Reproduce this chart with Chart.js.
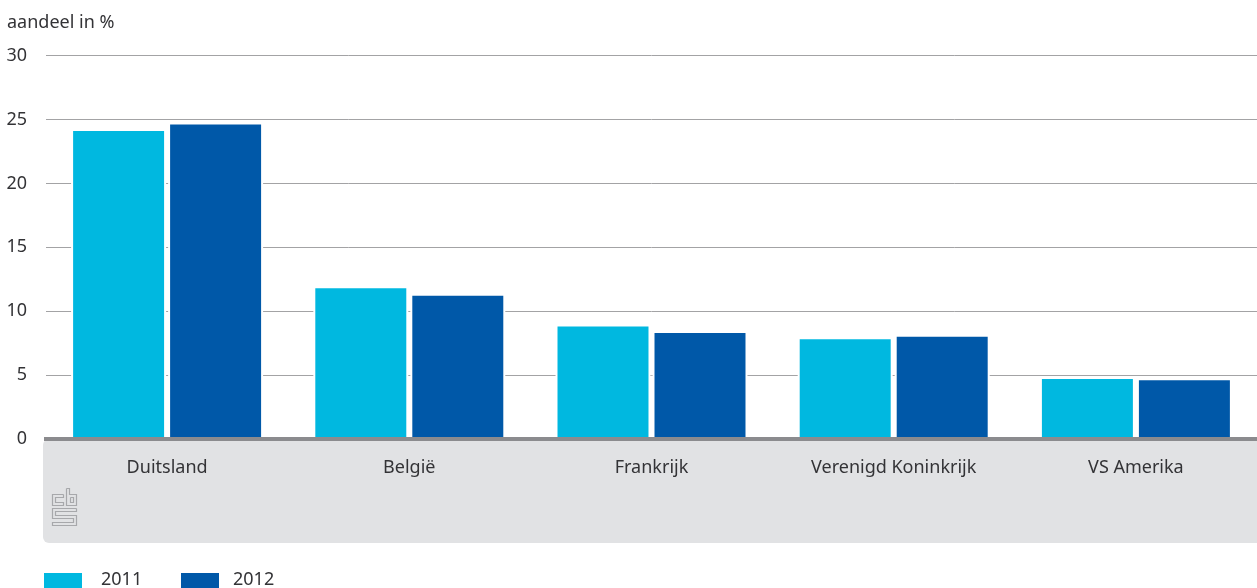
<!DOCTYPE html>
<html lang="nl">
  <head>
    <meta charset="UTF-8" />
    <title>Aandeel per land</title>
    <style>
      html, body { margin: 0; padding: 0; background: #fff; overflow: hidden; }
      canvas { display: block; }
    </style>
  </head>
  <body>
    <canvas id="myChart" width="1257" height="588"></canvas>

    <script src="https://cdn.jsdelivr.net/npm/chart.js"></script>
    <script>
      const landen = ["Duitsland", "België", "Frankrijk", "Verenigd Koninkrijk", "VS Amerika"];
      const jaar2011 = [24.1, 11.8, 8.8, 7.8, 4.7];
      const jaar2012 = [24.6, 11.2, 8.3, 8.0, 4.6];
      const yTicks = [0, 5, 10, 15, 20, 25, 30];

      const fontName = "'Noto Sans', sans-serif";
      const fontSize = 18;
      const textColor = "#333336";

      // grey panel under the axis, drawn before everything else
      const panel = {
        id: "panel",
        beforeDraw(chart) {
          const c = chart.ctx;
          const a = chart.chartArea;
          c.save();
          c.fillStyle = "#e1e2e4";
          c.beginPath();
          c.roundRect(43, a.bottom, chart.width - 43 + 10, 104, 6);
          c.fill();
          c.restore();
        },
        // white edge round the bars, it cuts the grid lines
        beforeDatasetsDraw(chart) {
          const c = chart.ctx;
          c.save();
          c.fillStyle = "#fff";
          chart.data.datasets.forEach((d, i) => {
            chart.getDatasetMeta(i).data.forEach((b) => {
              c.fillRect(b.x - b.width / 2 - 2, b.y - 2, b.width + 4, b.base - b.y + 2);
            });
          });
          c.restore();
        },
        afterDatasetsDraw(chart) {
          const c = chart.ctx;
          const a = chart.chartArea;
          c.save();
          c.fillStyle = "#8b8b8e";
          c.fillRect(44, a.bottom - 2, chart.width - 44, 4);
          c.restore();
        },
        afterDraw(chart) {
          const c = chart.ctx;
          c.save();

          // legend
          const xBox = [44, 181];
          const xText = [101, 233];
          c.font = fontSize + "px " + fontName;
          c.textBaseline = "middle";
          chart.data.datasets.forEach((d, i) => {
            c.fillStyle = d.backgroundColor;
            c.fillRect(xBox[i], 573, 38, 15);
            c.fillStyle = textColor;
            c.fillText(d.label, xText[i], 580);
          });

          // cbs logo
          c.strokeStyle = "#a7a8ab";
          c.lineWidth = 1.2;
          const logo = [
            [[63.5, 494.5], [52.5, 494.5], [52.5, 505.5], [63.5, 505.5], [63.5, 502.5], [55.5, 502.5], [55.5, 497.5], [63.5, 497.5], [63.5, 494.5]],
            [[66.5, 488.5], [69.5, 488.5], [69.5, 494.5], [76.5, 494.5], [76.5, 505.5], [66.5, 505.5], [66.5, 488.5]],
            [[70.5, 497.5], [73.5, 497.5], [73.5, 502.5], [70.5, 502.5], [70.5, 497.5]],
            [[76.5, 508.5], [52.5, 508.5], [52.5, 518.5], [73.5, 518.5], [73.5, 522.5], [52.5, 522.5], [52.5, 525.5], [76.5, 525.5], [76.5, 515.5], [55.5, 515.5], [55.5, 511.5], [76.5, 511.5], [76.5, 508.5]],
          ];
          logo.forEach((pts) => {
            c.beginPath();
            pts.forEach((p, i) => (i ? c.lineTo(p[0], p[1]) : c.moveTo(p[0], p[1])));
            c.stroke();
          });
          c.restore();
        },
      };

      new Chart(document.getElementById("myChart"), {
        type: "bar",
        plugins: [panel],
        data: {
          labels: landen,
          datasets: [
            { label: "2011", data: jaar2011, backgroundColor: "#00b8e0", categoryPercentage: 0.801, barPercentage: 0.938 },
            { label: "2012", data: jaar2012, backgroundColor: "#0058a8", categoryPercentage: 0.801, barPercentage: 0.938 },
          ],
        },
        options: {
          responsive: false,
          animation: false,
          layout: { padding: { left: 7, top: 12, right: 0, bottom: 0 } },
          plugins: {
            legend: { display: false },
            tooltip: { enabled: false },
            title: {
              display: true,
              text: "aandeel in %",
              align: "start",
              color: textColor,
              font: { family: fontName, size: fontSize, weight: "normal" },
              padding: { top: 0, bottom: 22 },
            },
          },
          scales: {
            x: {
              grid: { display: false },
              border: { display: false },
              ticks: { color: textColor, font: { family: fontName, size: fontSize }, padding: 10, maxRotation: 0 },
              afterFit(s) { s.height = 149; },
            },
            y: {
              min: 0,
              max: 30,
              afterBuildTicks(s) { s.ticks = yTicks.map((v) => ({ value: v })); },
              grid: { color: "#a3a3a5", lineWidth: 1, drawTicks: false },
              border: { display: false },
              ticks: { color: textColor, font: { family: fontName, size: fontSize }, padding: 19 },
              afterFit(s) { s.width = 39; },
            },
          },
        },
      });
    </script>
  </body>
</html>
